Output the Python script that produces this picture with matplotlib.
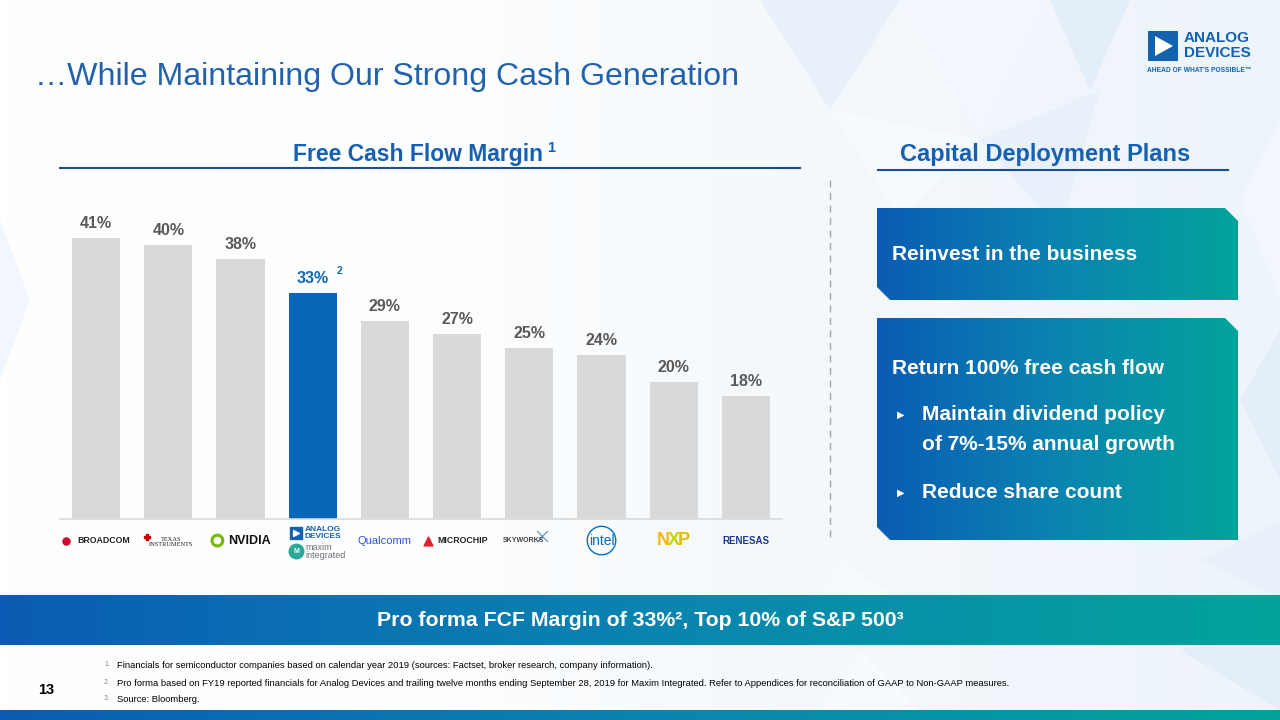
import numpy as np
import matplotlib
matplotlib.use("Agg")
import matplotlib.pyplot as plt
from matplotlib.patches import Polygon, Rectangle
from matplotlib.colors import LinearSegmentedColormap

plt.rcParams['font.family'] = ['Liberation Sans', 'DejaVu Sans']

# ---------------- data ----------------
companies = ["Broadcom", "Texas Instruments", "NVIDIA", "Analog Devices + Maxim",
             "Qualcomm", "Microchip", "Skyworks", "Intel", "NXP", "Renesas"]
fcf_margin = [41, 40, 38, 33, 29, 27, 25, 24, 20, 18]
highlight = "Analog Devices + Maxim"

title = "…While Maintaining Our Strong Cash Generation"
chart_title = "Free Cash Flow Margin"
plans_title = "Capital Deployment Plans"
box1_text = "Reinvest in the business"
box2_head = "Return 100% free cash flow"
box2_bullets = [["Maintain dividend policy", "of 7%-15% annual growth"], ["Reduce share count"]]
banner_text = "Pro forma FCF Margin of 33%², Top 10% of S&P 500³"
footnotes = [
    "Financials for semiconductor companies based on calendar year 2019 (sources: Factset, broker research, company information).",
    "Pro forma based on FY19 reported financials for Analog Devices and trailing twelve months ending September 28, 2019 for Maxim Integrated. Refer to Appendices for reconciliation of GAAP to Non-GAAP measures.",
    "Source: Bloomberg.",
]
page_no = "13"

# ---------------- colours ----------------
GREY_BAR = "#d9d9d9"
ADI_BLUE = "#0a67b8"
TITLE_BLUE = "#2161ad"
HEAD_BLUE = "#1560b0"
LABEL_GREY = "#595959"
grad = LinearSegmentedColormap.from_list("g", ["#0b5cb4", "#0a84b0", "#03a39b"])

W, H = 1280, 720
fig = plt.figure(figsize=(12.8, 7.2), dpi=100)
bg = fig.add_axes([0, 0, 1, 1])
bg.set_xlim(0, W)
bg.set_ylim(H, 0)
bg.axis("off")

# background: white to pale blue
bgimg = np.linspace(0, 1, 256)[None, :]
bgcmap = LinearSegmentedColormap.from_list("bg", ["#ffffff", "#fdfeff", "#f3f8fc", "#edf4fa"])
bg.imshow(bgimg, extent=[0, W, H, 0], cmap=bgcmap, aspect="auto", zorder=0)

# faint geometric pattern
tri_col = ["#e8f1f9", "#f1f7fc", "#e4eef8", "#f6f9fd"]
tris = [
    [(760, 0), (900, 0), (830, 110)], [(900, 0), (1050, 0), (980, 140)],
    [(1050, 0), (1130, 0), (1090, 90)], [(830, 110), (980, 140), (900, 220)],
    [(980, 140), (1100, 90), (1060, 230)], [(1240, 200), (1280, 120), (1280, 300)],
    [(1240, 400), (1280, 330), (1280, 480)], [(840, 560), (900, 600), (820, 600)],
    [(1200, 560), (1280, 520), (1280, 600)], [(0, 220), (30, 300), (0, 380)],
    [(1180, 650), (1280, 620), (1280, 710)], [(860, 650), (920, 710), (820, 710)],
]
for i, t in enumerate(tris):
    bg.add_patch(Polygon(t, closed=True, fc=tri_col[i % len(tri_col)], ec="none", zorder=0.5))

def gradient_patch(poly_pts, x0, x1, y0, y1, z=2):
    poly = Polygon(poly_pts, closed=True, fc="none", ec="none")
    bg.add_patch(poly)
    im = bg.imshow(np.linspace(0, 1, 256)[None, :], extent=[x0, x1, y1, y0],
                   cmap=grad, aspect="auto", zorder=z)
    im.set_clip_path(poly)

# title
bg.text(35, 77, title, fontsize=23.1, color=TITLE_BLUE, va="center", ha="left", zorder=5)

# ADI logo top right
bg.add_patch(Rectangle((1148, 31), 30, 30, fc="#1262b0", ec="none", zorder=5))
bg.add_patch(Polygon([(1155, 36), (1155, 56), (1173, 46)], closed=True, fc="white", ec="none", zorder=6))
bg.text(1184, 38, "ANALOG", fontsize=11, fontweight="bold", color="#1262b0", va="center",
        ha="left", zorder=5)
bg.text(1184, 53, "DEVICES", fontsize=11, fontweight="bold", color="#1262b0", va="center",
        ha="left", zorder=5)
bg.text(1147, 70, "AHEAD OF WHAT'S POSSIBLE™", fontsize=4.8, fontweight="bold", color="#1262b0",
        va="center", ha="left", zorder=5)

# section headings + rules
bg.text(293, 155, chart_title, fontsize=16.5, fontweight="bold", color=HEAD_BLUE, ha="left",
        va="center", zorder=5)
bg.text(547, 148, "1", fontsize=10.5, fontweight="bold", color=HEAD_BLUE, ha="left",
        va="center", zorder=5)
bg.plot([60, 800], [168, 168], color="#1a4f8f", lw=1.5, zorder=5)
bg.text(1045, 155, plans_title, fontsize=17, fontweight="bold", color=HEAD_BLUE, ha="center",
        va="center", zorder=5)
bg.plot([878, 1228], [170, 170], color="#1a4f8f", lw=1.5, zorder=5)

# dashed divider
bg.plot([830, 830], [180, 540], color="#a6a6a6", lw=1, ls=(0, (5, 4)), zorder=5)

# right boxes
c = 13
b1 = [(877, 208), (1238 - c, 208), (1238, 208 + c), (1238, 300), (877 + c, 300), (877, 300 - c)]
gradient_patch(b1, 877, 1238, 208, 300)
b2 = [(877, 318), (1238 - c, 318), (1238, 318 + c), (1238, 540), (877 + c, 540), (877, 540 - c)]
gradient_patch(b2, 877, 1238, 318, 540)
bg.text(892, 255, box1_text, fontsize=15, fontweight="bold", color="white", va="center", zorder=6)
bg.text(892, 368, box2_head, fontsize=15, fontweight="bold", color="white", va="center", zorder=6)
line_y = [[414, 445], [492]]
for lines, ys in zip(box2_bullets, line_y):
    bg.text(897, ys[0] + 1, "▶", fontsize=7, color="white", va="center", zorder=6, family="DejaVu Sans")
    for ln, y in zip(lines, ys):
        bg.text(922, y, ln, fontsize=15, fontweight="bold", color="white", va="center", zorder=6)

# bottom banner
gradient_patch([(0, 595), (W, 595), (W, 645), (0, 645)], 0, W, 595, 645)
bg.text(640, 621, banner_text, fontsize=15.3, fontweight="bold", color="white", ha="center",
        va="center", zorder=6)
gradient_patch([(0, 710), (W, 710), (W, 720), (0, 720)], 0, W, 710, 720)

# footnotes
fy = [665, 683, 699]
for i, (t, y) in enumerate(zip(footnotes, fy)):
    bg.text(104, y, f"{i+1}.", fontsize=5, color="#7f7f7f", va="center", zorder=5)
    bg.text(117, y, t, fontsize=6.75, color="black", va="center", zorder=5)
bg.text(38, 690, page_no, fontsize=10.5, fontweight="bold", color="black", va="center", zorder=5)

# ---------------- bar chart ----------------
ax = fig.add_axes([60 / W, 1 - 519 / H, 722 / W, 308 / H])
ax.patch.set_alpha(0)
x = np.arange(len(companies))
colors = [ADI_BLUE if c == highlight else GREY_BAR for c in companies]
ax.bar(x, fcf_margin, width=0.67, color=colors, zorder=2)
ax.set_xlim(-0.5, len(companies) - 0.5)
ax.set_ylim(0, 45)
for s in ["top", "left", "right"]:
    ax.spines[s].set_visible(False)
ax.spines["bottom"].set_color("#d9d9d9")
ax.spines["bottom"].set_linewidth(1.2)
ax.set_xticks([])
ax.set_yticks([])

for xi, v, cname in zip(x, fcf_margin, companies):
    col = ADI_BLUE if cname == highlight else LABEL_GREY
    ax.annotate(f"{v}%", (xi, v), xytext=(0, 5), textcoords="offset points", ha="center",
                va="bottom", fontsize=11.5, fontweight="bold", color=col)
    if cname == highlight:
        ax.annotate("2", (xi, v), xytext=(17, 12), textcoords="offset points", ha="left",
                    va="bottom", fontsize=7.5, fontweight="bold", color=col)

# logos as styled text under each bar
tr = ax.get_xaxis_transform()
ly = -0.07
def logo(i, s, **kw):
    ax.text(i, ly, s, transform=tr, ha="center", va="center", clip_on=False, **kw)

# Broadcom
logo(0.1, "BROADCOM", fontsize=6.3, fontweight="bold", color="#222222")
ax.scatter([-0.42], [ly], transform=tr, s=26, color="#cc092f", clip_on=False, zorder=3)
# Texas Instruments
ax.scatter([0.7], [ly + 0.012], transform=tr, s=22, marker="P", color="#cc0000", clip_on=False)
ax.text(1.04, ly - 0.004, "TEXAS\nINSTRUMENTS", transform=tr, ha="center", va="center", fontsize=4.6,
        family="Liberation Serif", color="#222222", linespacing=0.9, clip_on=False)
# NVIDIA
ax.scatter([1.68], [ly], transform=tr, s=60, marker="o", facecolor="none", edgecolor="#76b900",
           linewidths=2.2, clip_on=False)
logo(2.12, "NVIDIA", fontsize=9, fontweight="bold", color="#111111")
# ADI + Maxim
ax.scatter([2.77], [-0.045], transform=tr, s=70, marker="s", color="#1262b0", clip_on=False)
ax.scatter([2.77], [-0.045], transform=tr, s=18, marker=">", color="white", clip_on=False)
ax.text(3.14, -0.045, "ANALOG\nDEVICES", transform=tr, ha="center", va="center", fontsize=6,
        fontweight="bold", color="#1262b0", linespacing=0.9, clip_on=False)
ax.scatter([2.77], [-0.105], transform=tr, s=110, marker="o", color="#2aa89a", clip_on=False)
ax.text(2.77, -0.105, "M", transform=tr, ha="center", va="center", fontsize=5, color="white",
        fontweight="bold", clip_on=False)
ax.text(2.9, -0.105, "maxim\nintegrated", transform=tr, ha="left", va="center", fontsize=6.5,
        color="#6d6e71", linespacing=0.9, clip_on=False)
# Qualcomm
logo(4.0, "Qualcomm", fontsize=8, color="#3253dc")
# Microchip
ax.scatter([4.6], [ly], transform=tr, s=40, marker="^", color="#e0202a", clip_on=False)
logo(5.08, "MICROCHIP", fontsize=6.3, fontweight="bold", color="#222222")
# Skyworks
logo(5.92, "SKYWORKS", fontsize=5, fontweight="bold", color="#444444")
ax.scatter([6.18], [-0.055], transform=tr, s=60, marker="x", color="#4a8fd0", linewidths=0.8,
           clip_on=False)
# Intel
logo(7.0, "intel", fontsize=10, color="#0071c5")
ax.scatter([7.0], [ly], transform=tr, s=420, marker="o", facecolor="none", edgecolor="#0071c5",
           linewidths=1.0, clip_on=False)
# NXP
for xl, ch, cl in [(7.86, "N", "#f9b500"), (8.0, "X", "#c9d200"), (8.14, "P", "#e6b800")]:
    ax.text(xl, ly, ch, transform=tr, ha="center", va="center", fontsize=13, fontweight="bold",
            color=cl, clip_on=False)
# Renesas
logo(9.0, "RENESAS", fontsize=7, fontweight="bold", color="#1b3a8c")

fig.savefig("out.png", dpi=100)
